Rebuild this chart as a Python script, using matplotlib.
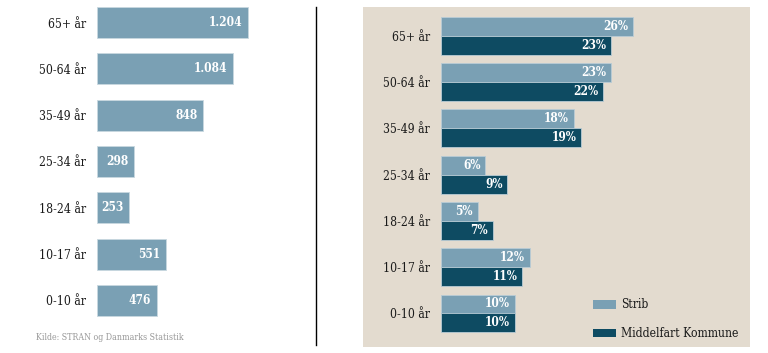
import matplotlib
matplotlib.use("Agg")
import matplotlib.pyplot as plt
from matplotlib.patches import Rectangle, Patch
from matplotlib.lines import Line2D
from matplotlib import font_manager as fm

categories = ["65+ år", "50-64 år", "35-49 år", "25-34 år", "18-24 år", "10-17 år", "0-10 år"]
counts = [1204, 1084, 848, 298, 253, 551, 476]
count_labels = ["1.204", "1.084", "848", "298", "253", "551", "476"]
strib_pct = [26, 23, 18, 6, 5, 12, 10]
kommune_pct = [23, 22, 19, 9, 7, 11, 10]
series_names = ["Strib", "Middelfart Kommune"]
source = "Kilde: STRAN og Danmarks Statistik"

LIGHT = "#7aa0b4"
DARK = "#0e4b62"
BG = "#e3dbcf"
FONT = "DejaVu Serif"
STRETCH = "condensed"

W, H = 768, 353
fig = plt.figure(figsize=(W / 100, H / 100), dpi=100)
fig.patch.set_facecolor("white")

def fp(size, weight="normal"):
    return fm.FontProperties(family=FONT, size=size, weight=weight, stretch=STRETCH)

def px_axes(x0, y0, x1, y1):
    return fig.add_axes([x0 / W, 1 - y1 / H, (x1 - x0) / W, (y1 - y0) / H])

# ---- Left panel ----
axL = px_axes(97, 0, 297, 330)
pos = list(range(len(categories)))
axL.barh(pos, counts, height=0.67, color=LIGHT, edgecolor="#c9d8e0", linewidth=0.6)
axL.set_xlim(0, 200 / 0.1254)
axL.set_ylim((330 - 22.5) / 46.33, -22.5 / 46.33)
axL.set_yticks(pos)
axL.set_yticklabels(categories, color="#1a1a1a")
for t in axL.get_yticklabels():
    t.set_fontproperties(fp(8.7))
axL.tick_params(axis="y", length=0, pad=8)
axL.set_xticks([])
for s in axL.spines.values():
    s.set_visible(False)
axL.patch.set_alpha(0)
for i, (v, lab) in enumerate(zip(counts, count_labels)):
    axL.annotate(lab, (v, i), xytext=(-4, 0), textcoords="offset points",
                 ha="right", va="center", color="white", fontproperties=fp(8.6, "bold"))

fig.text(36 / W, 1 - 338 / H, source, fontproperties=fp(6.3),
         color="#999999", ha="left", va="center")

fig.add_artist(Line2D([316 / W, 316 / W], [1 - 7 / H, 1 - 345 / H],
                      color="black", linewidth=1.0))

# ---- Right panel ----
fig.add_artist(Rectangle((363 / W, 1 - 347 / H), (750 - 363) / W, (347 - 7) / H,
                         transform=fig.transFigure, facecolor=BG,
                         edgecolor="none", zorder=0))
axR = px_axes(441, 0, 741, 353)
axR.patch.set_alpha(0)
off = 9.5 / 46.25
hb = 19 / 46.25
axR.barh([p - off for p in pos], strib_pct, height=hb, color=LIGHT,
         edgecolor="#b9ccd6", linewidth=0.6, label=series_names[0])
axR.barh([p + off for p in pos], kommune_pct, height=hb, color=DARK,
         edgecolor="#b9ccd6", linewidth=0.6, label=series_names[1])
axR.set_xlim(0, 300 / 7.38)
axR.set_ylim((353 - 36) / 46.25, -36 / 46.25)
axR.set_yticks(pos)
axR.set_yticklabels(categories, color="#1a1a1a")
for t in axR.get_yticklabels():
    t.set_fontproperties(fp(8.7))
axR.tick_params(axis="y", length=0, pad=8)
axR.set_xticks([])
for s in axR.spines.values():
    s.set_visible(False)
for i, (a, b) in enumerate(zip(strib_pct, kommune_pct)):
    axR.annotate(f"{a}%", (a, i - off), xytext=(-3.5, 0), textcoords="offset points",
                 ha="right", va="center", color="white", fontproperties=fp(8.6, "bold"))
    axR.annotate(f"{b}%", (b, i + off), xytext=(-3.5, 0), textcoords="offset points",
                 ha="right", va="center", color="white", fontproperties=fp(8.6, "bold"))

handles = [Patch(facecolor=LIGHT, edgecolor="none"), Patch(facecolor=DARK, edgecolor="none")]
leg = fig.legend(handles, series_names, loc="upper left",
                 bbox_to_anchor=(585 / W, 1 - 290 / H),
                 frameon=False, prop=fp(8.7),
                 handlelength=1.9, handleheight=0.75, handletextpad=0.35,
                 labelspacing=1.3, borderpad=0.2)
for t in leg.get_texts():
    t.set_color("#1a1a1a")

fig.savefig("out.png", dpi=100)
